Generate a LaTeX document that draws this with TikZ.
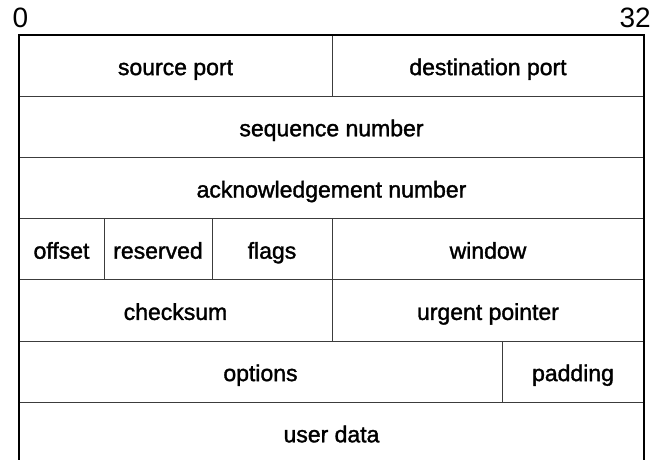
\documentclass[tikz,border=0pt]{standalone}
\usepackage{fontspec}
\setmainfont{Liberation Sans}
\newfontfamily\fieldfont{Liberation Sans}[FakeBold=1.5]
\usepackage{xcolor}
\definecolor{HdrLine}{RGB}{60,60,60}

\begin{document}
\begin{tikzpicture}[
x=1pt,y=-1pt,
field/.style={
rectangle,
draw=HdrLine,
line width=1pt,
inner sep=0pt,
outer sep=0pt,
anchor=north west,
minimum height=61.2pt,
text height=19pt,
text depth=0pt,
font=\fieldfont\fontsize{23}{26}\selectfont
},
bitlabel/.style={
inner sep=0pt,
anchor=base,
font=\fontsize{28}{30}\selectfont
},
frame/.style={
line width=2pt,
draw=black
}
]

\useasboundingbox (0,0) rectangle (661,460);
\clip (0,0) rectangle (661,460);

\node[bitlabel] (lbl0) at (20.5,28) {0};
\node[bitlabel,anchor=base east] (lbl32) at (651,28) {32};

% header rows
\node[field,minimum width=313pt] (src) at (19,35) {source port};
\node[field,minimum width=312pt] (dst) at (332,35) {destination port};
\node[field,minimum width=625pt] (seq) at (19,96.2) {sequence number};
\node[field,minimum width=625pt] (ack) at (19,157.4) {acknowledgement number};
\node[field,minimum width=85pt] (off) at (19,218.6) {offset};
\node[field,minimum width=108pt] (res) at (104,218.6) {reserved};
\node[field,minimum width=120pt] (flg) at (212,218.6) {flags};
\node[field,minimum width=312pt] (win) at (332,218.6) {window};
\node[field,minimum width=313pt] (chk) at (19,279.8) {checksum};
\node[field,minimum width=312pt] (urg) at (332,279.8) {urgent pointer};
\node[field,minimum width=483pt] (opt) at (19,341) {options};
\node[field,minimum width=142pt] (pad) at (502,341) {padding};
\node[field,minimum width=625pt] (dat) at (19,402.2) {user data};

% outer frame
\draw[frame] (dat.south west) -- (src.north west) -- (dst.north east) -- (dat.south east);

\end{tikzpicture}
\end{document}
